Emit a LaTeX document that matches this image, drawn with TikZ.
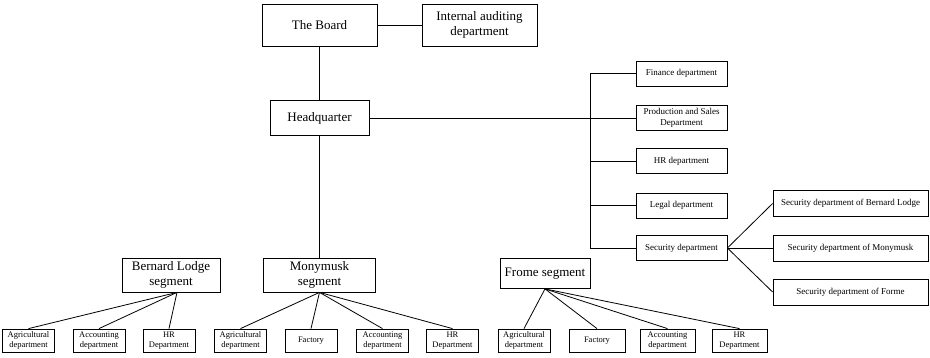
\documentclass[tikz,border=0pt]{standalone}
\usepackage{fontspec}
\setmainfont{Liberation Serif}
\usetikzlibrary{calc}

\begin{document}
\begin{tikzpicture}[x=1pt,y=-1pt,
    box/.style={draw, line width=0.8pt, align=center, inner sep=1pt},
    topbox/.style={box, font=\fontsize{13}{15.5}\selectfont},
    deptbox/.style={box, font=\fontsize{9}{11}\selectfont, minimum width=91pt, minimum height=25pt},
    secbox/.style={box, font=\fontsize{9}{11}\selectfont, minimum width=155pt, minimum height=26pt},
    unitbox/.style={box, font=\fontsize{8.5}{10}\selectfont, minimum width=52pt, minimum height=23pt},
    link/.style={line width=0.8pt}]

    \useasboundingbox (0,0) rectangle (930,358);

    % Oberste Ebene
    \node[topbox, minimum width=115pt, minimum height=42pt] (board) at (319.5,25) {The Board};
    \node[topbox, minimum width=115pt, minimum height=42pt] (audit) at (479.5,25) {Internal auditing\\department};
    \node[topbox, minimum width=99pt, minimum height=35pt] (hq) at (319.5,118) {Headquarter};

    % Abteilungen der Zentrale
    \node[deptbox] (fin) at (681.5,73.5) {Finance department};
    \node[deptbox] (prod) at (681.5,118) {Production and Sales\\Department};
    \node[deptbox] (hrd) at (681.5,161) {HR department};
    \node[deptbox] (legal) at (681.5,205.5) {Legal department};
    \node[deptbox] (sec) at (681.5,248) {Security department};

    % Sicherheitsabteilungen der Segmente
    \node[secbox] (secbl) at (850.5,203.5) {Security department of Bernard Lodge};
    \node[secbox] (secmony) at (850.5,248) {Security department of Monymusk};
    \node[secbox] (secfrome) at (850.5,292) {Security department of Forme};

    % Segmente
    \node[topbox, minimum width=98pt, minimum height=34pt] (bl) at (171,275) {Bernard Lodge\\segment};
    \node[topbox, minimum width=112pt, minimum height=34pt] (mony) at (319.5,275) {Monymusk\\segment};
    \node[topbox, minimum width=90pt, minimum height=30pt] (frome) at (545,273.5) {Frome segment};

    % Einheiten der Segmente
    \node[unitbox] (blagri) at (28.5,340.5) {Agricultural\\department};
    \node[unitbox] (blacc) at (99,340.5) {Accounting\\department};
    \node[unitbox] (blhr) at (169,340.5) {HR\\Department};

    \node[unitbox] (monyagri) at (240.5,340.5) {Agricultural\\department};
    \node[unitbox] (monyfac) at (311,340.5) {Factory};
    \node[unitbox] (monyacc) at (382.5,340.5) {Accounting\\department};
    \node[unitbox] (monyhr) at (452.5,340.5) {HR\\Department};

    \node[unitbox] (fromeagri) at (524,340.5) {Agricultural\\department};
    \node[unitbox, minimum width=56pt] (fromefac) at (597,340.5) {Factory};
    \node[unitbox, minimum width=55pt] (fromeacc) at (667.5,340.5) {Accounting\\department};
    \node[unitbox, minimum width=55pt] (fromehr) at (739.5,340.5) {HR\\Department};

    % Verbindungen
    \draw[link] (board.east) -- (audit.west);
    \draw[link] (board.south) -- (hq.north);
    \draw[link] (hq.south) -- (mony.north);
    \draw[link] (hq.east) -- (prod.west);

    \coordinate (trunktop) at (590,73.5);
    \coordinate (trunkbot) at (590,248);
    \draw[link] (fin.west) -- (trunktop) -- (trunkbot) -- (sec.west);
    \foreach \d in {hrd,legal} {
        \draw[link] (\d.west) -- (\d.west -| trunktop);
    }

    \foreach \s in {secbl,secmony,secfrome} {
        \draw[link] (sec.east) -- (\s.west);
    }

    \coordinate (blfoot) at ($(bl.south)+(6,0)$);
    \foreach \u in {blagri,blacc,blhr} {
        \draw[link] (blfoot) -- (\u.north);
    }
    \foreach \u in {monyagri,monyfac,monyacc,monyhr} {
        \draw[link] (mony.south) -- (\u.north);
    }
    \foreach \u in {fromeagri,fromefac,fromeacc,fromehr} {
        \draw[link] (frome.south) -- (\u.north);
    }

\end{tikzpicture}
\end{document}
